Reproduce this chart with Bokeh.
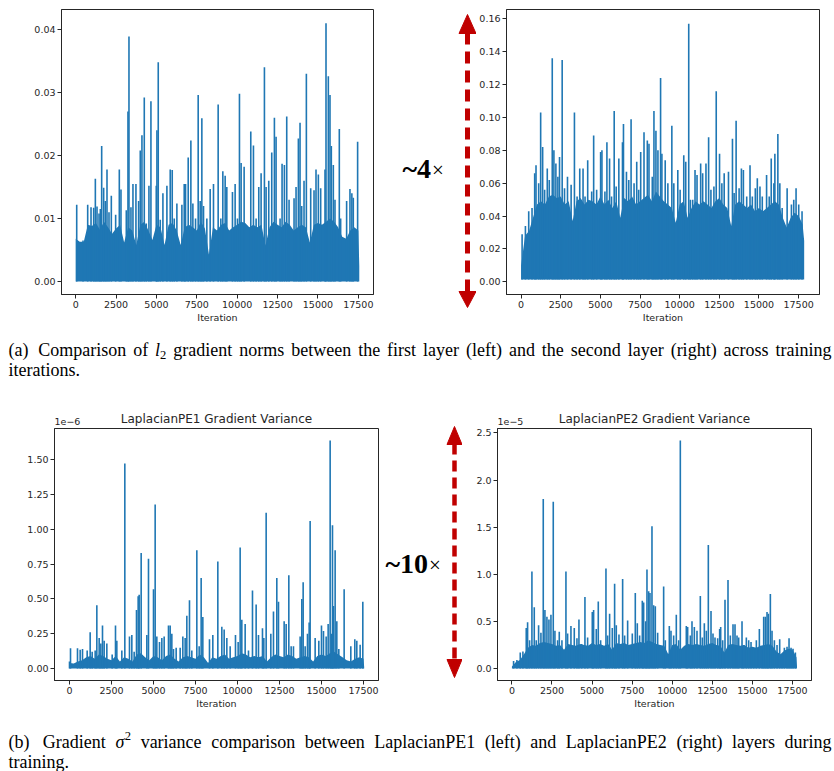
from bokeh.plotting import figure
from bokeh.models import Range1d, FixedTicker, NumeralTickFormatter
from bokeh.layouts import row, column
from bokeh.embed import file_html
from bokeh.resources import INLINE
from bokeh.core.properties import value

# ---------------- data ----------------
iter_ticks = [0, 2500, 5000, 7500, 10000, 12500, 15000, 17500]

# (a-left) l2 gradient norm, first layer
l1_yticks = [0.0, 0.01, 0.02, 0.03, 0.04]
l1_band_iter = [0, 250, 500, 750, 1000, 1250, 1500, 1750, 2000, 2250,
                2500, 2750, 3000, 3250, 3500, 3750, 4000, 4250, 4500, 4750,
                5000, 5250, 5500, 5750, 6000, 6250, 6500, 6750, 7000, 7250,
                7500, 7750, 8000, 8250, 8500, 8750, 9000, 9250, 9500, 9750,
                10000, 10250, 10500, 10750, 11000, 11250, 11500, 11750, 12000, 12250,
                12500, 12750, 13000, 13250, 13500, 13750, 14000, 14250, 14500, 14750,
                15000, 15250, 15500, 15750, 16000, 16250, 16500, 16750, 17000, 17250,
                17500, 17560]
l1_band_norm = [0.0068, 0.0063, 0.0063, 0.0090, 0.0088, 0.0093, 0.0082, 0.0095, 0.0086, 0.0076,
                0.0084, 0.0090, 0.0062, 0.0086, 0.0081, 0.0058, 0.0090, 0.0095, 0.0081, 0.0066,
                0.0090, 0.0086, 0.0058, 0.0090, 0.0093, 0.0081, 0.0058, 0.0086, 0.0090, 0.0086,
                0.0081, 0.0095, 0.0084, 0.0043, 0.0086, 0.0081, 0.0090, 0.0093, 0.0081, 0.0086,
                0.0090, 0.0095, 0.0093, 0.0086, 0.0090, 0.0086, 0.0090, 0.0057, 0.0086, 0.0095,
                0.0090, 0.0086, 0.0095, 0.0090, 0.0081, 0.0086, 0.0090, 0.0086, 0.0062, 0.0090,
                0.0093, 0.0090, 0.0095, 0.0100, 0.0095, 0.0086, 0.0071, 0.0068, 0.0081, 0.0086,
                0.0081, 0.0025]
l1_peak_iter = [62, 453, 742, 948, 1113, 1216, 1319, 1443, 1525, 1608,
                1731, 1834, 1937, 2061, 2205, 2473, 2700, 2803, 3133, 3236,
                3298, 3421, 3545, 3730, 3895, 3998, 4101, 4246, 4369, 4534,
                4658, 4988, 5029, 5111, 5235, 5400, 5647, 5853, 5977, 6101,
                6265, 6575, 6719, 6801, 6966, 7131, 7255, 7420, 7584, 7708,
                7811, 7914, 8120, 8326, 8532, 8821, 8986, 9110, 9254, 9357,
                9707, 9872, 10016, 10140, 10243, 10429, 10841, 11006, 11171, 11336,
                11480, 11686, 11789, 11954, 12139, 12304, 12407, 12655, 12778, 12922,
                13067, 13211, 13520, 13644, 13788, 13891, 13994, 14138, 14283, 14551,
                14757, 14880, 15025, 15169, 15437, 15499, 15643, 15746, 15828, 15952,
                16055, 16323, 16406, 16776, 16983, 17100, 17189, 17457]
l1_peak_norm = [0.0122, 0.0065, 0.0122, 0.0118, 0.0117, 0.0163, 0.0119, 0.0108, 0.0115, 0.0215,
                0.0149, 0.0128, 0.0178, 0.0110, 0.0136, 0.0106, 0.0178, 0.0146, 0.0113, 0.0270,
                0.0389, 0.0118, 0.0155, 0.0155, 0.0128, 0.0208, 0.0232, 0.0292, 0.0092, 0.0152,
                0.0286, 0.0152, 0.0240, 0.0348, 0.0098, 0.0140, 0.0152, 0.0178, 0.0177, 0.0100,
                0.0124, 0.0122, 0.0155, 0.0155, 0.0197, 0.0224, 0.0124, 0.0100, 0.0296, 0.0128,
                0.0259, 0.0120, 0.0100, 0.0147, 0.0155, 0.0281, 0.0100, 0.0175, 0.0168, 0.0150,
                0.0142, 0.0155, 0.0100, 0.0298, 0.0188, 0.0182, 0.0238, 0.0216, 0.0100, 0.0150,
                0.0172, 0.0340, 0.0150, 0.0160, 0.0205, 0.0260, 0.0230, 0.0100, 0.0187, 0.0185,
                0.0262, 0.0130, 0.0132, 0.0150, 0.0227, 0.0252, 0.0120, 0.0160, 0.0330, 0.0148,
                0.0145, 0.0178, 0.0170, 0.0148, 0.0178, 0.0410, 0.0326, 0.0296, 0.0215, 0.0185,
                0.0130, 0.0242, 0.0100, 0.0128, 0.0147, 0.0140, 0.0133, 0.0222]

# (a-right) l2 gradient norm, second layer
l2_yticks = [0.0, 0.02, 0.04, 0.06, 0.08, 0.10, 0.12, 0.14, 0.16]
l2_floor = 0.0015
l2_band_iter = [0, 250, 500, 750, 1000, 1250, 1500, 1750, 2000, 2250,
                2500, 2750, 3000, 3250, 3500, 3750, 4000, 4250, 4500, 4750,
                5000, 5250, 5500, 5750, 6000, 6250, 6500, 6750, 7000, 7250,
                7500, 7750, 8000, 8250, 8500, 8750, 9000, 9250, 9500, 9750,
                10000, 10250, 10500, 10750, 11000, 11250, 11500, 11750, 12000, 12250,
                12500, 12750, 13000, 13250, 13500, 13750, 14000, 14250, 14500, 14750,
                15000, 15250, 15500, 15750, 16000, 16250, 16500, 16750, 17000, 17250,
                17500, 17750, 17850]
l2_band_norm = [0.010, 0.028, 0.031, 0.039, 0.047, 0.049, 0.047, 0.052, 0.053, 0.051,
                0.052, 0.047, 0.049, 0.037, 0.049, 0.051, 0.047, 0.050, 0.049, 0.047,
                0.052, 0.047, 0.050, 0.045, 0.049, 0.039, 0.051, 0.049, 0.052, 0.047,
                0.049, 0.051, 0.053, 0.049, 0.055, 0.052, 0.049, 0.047, 0.045, 0.036,
                0.047, 0.049, 0.039, 0.045, 0.049, 0.047, 0.049, 0.047, 0.045, 0.049,
                0.051, 0.047, 0.045, 0.034, 0.047, 0.049, 0.047, 0.045, 0.047, 0.043,
                0.045, 0.043, 0.045, 0.047, 0.049, 0.047, 0.039, 0.033, 0.039, 0.042,
                0.040, 0.035, 0.025]
l2_peak_iter = [63, 272, 480, 689, 856, 940, 1107, 1233, 1358, 1483,
                1650, 1776, 1964, 2068, 2193, 2319, 2423, 2590, 2737, 2925,
                3154, 3363, 3530, 3698, 3906, 4032, 4199, 4450, 4575, 4763,
                5014, 5097, 5285, 5411, 5578, 5703, 5870, 5995, 6163, 6392,
                6455, 6643, 6789, 6935, 7123, 7291, 7416, 7541, 7750, 7959,
                8064, 8272, 8377, 8502, 8628, 8795, 8878, 9087, 9254, 9505,
                9630, 9881, 10027, 10257, 10382, 10570, 10675, 10821, 10967, 11093,
                11322, 11448, 11657, 11824, 11970, 12158, 12304, 12513, 12659, 12806,
                13077, 13328, 13432, 13558, 13746, 13892, 14017, 14226, 14435, 14581,
                14769, 14895, 15062, 15208, 15479, 15646, 15772, 15939, 16002, 16190,
                16315, 16461, 16775, 17046, 17192, 17338, 17506, 17715]
l2_peak_norm = [0.029, 0.034, 0.043, 0.045, 0.066, 0.071, 0.060, 0.103, 0.082, 0.056,
                0.069, 0.062, 0.136, 0.080, 0.072, 0.064, 0.076, 0.135, 0.057, 0.064,
                0.059, 0.103, 0.052, 0.069, 0.069, 0.052, 0.074, 0.055, 0.089, 0.056,
                0.079, 0.080, 0.055, 0.085, 0.075, 0.052, 0.104, 0.058, 0.075, 0.085,
                0.096, 0.067, 0.062, 0.099, 0.060, 0.073, 0.056, 0.079, 0.091, 0.086,
                0.084, 0.064, 0.104, 0.092, 0.080, 0.124, 0.078, 0.074, 0.060, 0.095,
                0.060, 0.068, 0.056, 0.077, 0.073, 0.157, 0.050, 0.050, 0.068, 0.065,
                0.072, 0.066, 0.072, 0.088, 0.056, 0.058, 0.116, 0.078, 0.060, 0.066,
                0.067, 0.087, 0.054, 0.098, 0.057, 0.069, 0.068, 0.052, 0.071, 0.052,
                0.057, 0.063, 0.058, 0.052, 0.065, 0.052, 0.075, 0.060, 0.078, 0.090,
                0.060, 0.045, 0.057, 0.047, 0.050, 0.057, 0.047, 0.043]

# (b-left) LaplacianPE1 gradient variance, in units of 1e-6
pe1_yticks = [0.0, 0.25, 0.5, 0.75, 1.0, 1.25, 1.5]
pe1_band_iter = [0, 250, 500, 750, 1000, 1250, 1500, 1750, 2000, 2250,
                 2500, 2750, 3000, 3250, 3500, 3750, 4000, 4250, 4500, 4750,
                 5000, 5250, 5500, 5750, 6000, 6250, 6500, 6750, 7000, 7250,
                 7500, 7750, 8000, 8250, 8500, 8750, 9000, 9250, 9500, 9750,
                 10000, 10250, 10500, 10750, 11000, 11250, 11500, 11750, 12000, 12250,
                 12500, 12750, 13000, 13250, 13500, 13750, 14000, 14250, 14500, 14750,
                 15000, 15250, 15500, 15750, 16000, 16250, 16500, 16750, 17000, 17250,
                 17500, 17540]
pe1_band_var_e6 = [0.04, 0.035, 0.05, 0.06, 0.08, 0.09, 0.07, 0.10, 0.09, 0.07,
                   0.06, 0.09, 0.05, 0.08, 0.07, 0.05, 0.10, 0.11, 0.08, 0.06,
                   0.09, 0.08, 0.06, 0.09, 0.10, 0.07, 0.05, 0.08, 0.09, 0.08,
                   0.07, 0.10, 0.08, 0.04, 0.08, 0.07, 0.09, 0.10, 0.07, 0.08,
                   0.09, 0.11, 0.10, 0.08, 0.09, 0.08, 0.09, 0.05, 0.08, 0.10,
                   0.09, 0.08, 0.10, 0.09, 0.07, 0.08, 0.09, 0.08, 0.05, 0.09,
                   0.10, 0.09, 0.11, 0.12, 0.10, 0.08, 0.06, 0.05, 0.07, 0.08,
                   0.07, 0.01]
pe1_peak_iter = [0, 60, 476, 635, 774, 1052, 1230, 1349, 1528, 1627,
                 1766, 1865, 1964, 2063, 2222, 2540, 2738, 2817, 3115, 3293,
                 3571, 3710, 3849, 3988, 4087, 4147, 4266, 4603, 4702, 5000,
                 5099, 5198, 5357, 5496, 5635, 5892, 5992, 6091, 6190, 6349,
                 6587, 6746, 6884, 6984, 7142, 7281, 7579, 7718, 7837, 7936,
                 8333, 8531, 8829, 9067, 9206, 9365, 9563, 9880, 10039, 10158,
                 10257, 10456, 10654, 10892, 11110, 11249, 11487, 11567, 11706, 11984,
                 12142, 12340, 12440, 12777, 12896, 13055, 13194, 13332, 13729, 13828,
                 13908, 14027, 14166, 14265, 14324, 14622, 14840, 14999, 15118, 15277,
                 15396, 15515, 15594, 15654, 15713, 15812, 15912, 16031, 16348, 16745,
                 16983, 17102, 17300, 17459]
pe1_peak_var_e6 = [0.05, 0.145, 0.145, 0.135, 0.14, 0.13, 0.26, 0.12, 0.13, 0.455,
                   0.22, 0.18, 0.31, 0.20, 0.18, 0.10, 0.31, 0.20, 0.13, 1.475,
                   0.23, 0.24, 0.12, 0.42, 0.52, 0.53, 0.83, 0.24, 0.79, 0.57,
                   1.18, 0.23, 0.19, 0.22, 0.23, 0.31, 0.31, 0.25, 0.14, 0.15,
                   0.15, 0.23, 0.22, 0.38, 0.49, 0.13, 0.85, 0.16, 0.65, 0.37,
                   0.21, 0.24, 0.77, 0.30, 0.28, 0.22, 0.16, 0.24, 0.19, 0.87,
                   0.35, 0.32, 0.13, 0.56, 0.46, 0.24, 0.29, 0.22, 1.12, 0.25,
                   0.41, 0.65, 0.48, 0.34, 0.32, 0.67, 0.16, 0.16, 0.23, 0.50,
                   0.62, 0.16, 0.25, 0.33, 1.06, 0.22, 0.20, 0.31, 0.27, 0.23,
                   0.32, 1.64, 0.25, 1.03, 0.45, 0.85, 0.34, 0.14, 0.57, 0.16,
                   0.21, 0.20, 0.17, 0.48]

# (b-right) LaplacianPE2 gradient variance, in units of 1e-5
pe2_yticks = [0.0, 0.5, 1.0, 1.5, 2.0, 2.5]
pe2_band_iter = [0, 250, 500, 750, 1000, 1250, 1500, 1750, 2000, 2250,
                 2500, 2750, 3000, 3250, 3500, 3750, 4000, 4250, 4500, 4750,
                 5000, 5250, 5500, 5750, 6000, 6250, 6500, 6750, 7000, 7250,
                 7500, 7750, 8000, 8250, 8500, 8750, 9000, 9250, 9500, 9750,
                 10000, 10250, 10500, 10750, 11000, 11250, 11500, 11750, 12000, 12250,
                 12500, 12750, 13000, 13250, 13500, 13750, 14000, 14250, 14500, 14750,
                 15000, 15250, 15500, 15750, 16000, 16250, 16500, 16750, 17000, 17250,
                 17500, 17750, 17780]
pe2_band_var_e5 = [0.02, 0.07, 0.09, 0.15, 0.22, 0.25, 0.24, 0.27, 0.28, 0.27,
                   0.26, 0.24, 0.25, 0.20, 0.26, 0.25, 0.24, 0.26, 0.25, 0.24,
                   0.27, 0.25, 0.26, 0.24, 0.26, 0.20, 0.27, 0.26, 0.27, 0.25,
                   0.26, 0.27, 0.28, 0.27, 0.30, 0.28, 0.26, 0.25, 0.24, 0.15,
                   0.25, 0.26, 0.20, 0.24, 0.26, 0.25, 0.26, 0.25, 0.24, 0.26,
                   0.27, 0.25, 0.24, 0.17, 0.25, 0.26, 0.25, 0.24, 0.25, 0.22,
                   0.23, 0.22, 0.24, 0.25, 0.26, 0.24, 0.18, 0.15, 0.19, 0.21,
                   0.20, 0.12, 0.03]
pe2_peak_iter = [104, 312, 520, 686, 894, 978, 1102, 1248, 1394, 1518,
                 1664, 1810, 1955, 2059, 2184, 2309, 2434, 2579, 2683, 2850,
                 2954, 3120, 3370, 3474, 3682, 3890, 4056, 4181, 4347, 4555,
                 4722, 5013, 5096, 5262, 5387, 5533, 5866, 5970, 6094, 6261,
                 6406, 6510, 6677, 6906, 7030, 7218, 7509, 7696, 7821, 7966,
                 8133, 8216, 8341, 8424, 8528, 8611, 8736, 8840, 8944, 9090,
                 9464, 9568, 9818, 9922, 10088, 10254, 10400, 10504, 10878, 10962,
                 11128, 11232, 11378, 11544, 11752, 11877, 12002, 12126, 12251, 12418,
                 12542, 12667, 12834, 12958, 13021, 13146, 13291, 13478, 13624, 13790,
                 13915, 14040, 14144, 14352, 14456, 14622, 14768, 14914, 15080, 15246,
                 15434, 15600, 15704, 15808, 15912, 15995, 16120, 16224, 16370, 16536,
                 16702, 16848, 16994, 17160, 17285, 17410, 17534, 17680]
pe2_peak_var_e5 = [0.08, 0.09, 0.17, 0.18, 0.43, 0.49, 0.30, 1.03, 0.65, 0.30,
                   0.46, 0.38, 1.80, 0.62, 0.55, 0.52, 0.57, 1.77, 0.40, 0.30,
                   0.39, 0.30, 1.03, 0.37, 0.45, 0.43, 0.32, 0.52, 0.26, 0.76,
                   0.33, 0.60, 0.62, 0.42, 0.71, 0.30, 1.06, 0.35, 0.58, 0.43,
                   0.90, 0.46, 0.36, 0.95, 0.35, 0.51, 0.37, 0.80, 0.48, 0.35,
                   0.72, 0.70, 0.50, 1.05, 0.82, 0.80, 1.51, 0.67, 0.66, 0.38,
                   0.87, 0.30, 0.45, 0.40, 0.35, 0.57, 0.30, 2.42, 0.45, 0.44,
                   0.35, 0.50, 0.44, 0.40, 0.77, 0.33, 0.48, 0.40, 1.31, 0.61,
                   0.37, 0.33, 0.32, 0.42, 0.44, 0.30, 0.73, 0.94, 0.35, 0.47,
                   0.47, 0.35, 0.33, 0.50, 0.25, 0.33, 0.30, 0.28, 0.20, 0.30,
                   0.42, 0.20, 0.55, 0.55, 0.60, 0.58, 0.79, 0.40, 0.30, 0.25,
                   0.31, 0.15, 0.22, 0.23, 0.32, 0.22, 0.21, 0.17]

# ---------------- styling ----------------
BLUE = "#1f77b4"
RED = "#c00000"
INK = "#262626"
TICK_FONT = "DejaVu Sans"
SERIF = "Liberation Serif"


def make_panel(width, height, borders, x_rng, y_rng, y_ticks, y_fmt,
               band_x, band_y, floor, peak_x, peak_y):
    left, right, top, bottom = borders
    p = figure(width=width, height=height, x_range=Range1d(*x_rng), y_range=Range1d(*y_rng),
               output_backend="svg", toolbar_location=None, title=None,
               min_border_left=left, min_border_right=right,
               min_border_top=top, min_border_bottom=bottom)
    p.grid.visible = False
    p.outline_line_color = INK
    p.outline_line_width = 1
    p.outline_line_alpha = 1.0
    p.background_fill_color = "white"
    p.border_fill_color = "white"
    p.varea(x=band_x, y1=floor, y2=band_y, fill_color=BLUE)
    p.segment(x0=peak_x, y0=floor, x1=peak_x, y1=peak_y, line_color=BLUE, line_width=1.6)
    xa = p.xaxis[0]
    ya = p.yaxis[0]
    xa.ticker = FixedTicker(ticks=iter_ticks)
    xa.formatter = NumeralTickFormatter(format="0")
    ya.ticker = FixedTicker(ticks=y_ticks)
    ya.formatter = NumeralTickFormatter(format=y_fmt)
    xa.axis_label = "Iteration"
    for ax in (xa, ya):
        ax.axis_line_color = INK
        ax.major_tick_line_color = INK
        ax.major_tick_in = 0
        ax.major_tick_out = 4
        ax.minor_tick_line_color = None
        ax.major_label_text_font = TICK_FONT
        ax.major_label_text_font_size = "9.5px"
        ax.major_label_text_color = INK
        ax.major_label_standoff = 2
    xa.axis_label_text_font = TICK_FONT
    xa.axis_label_text_font_size = "9.5px"
    xa.axis_label_text_font_style = "normal"
    xa.axis_label_text_color = INK
    xa.axis_label_standoff = 1
    return p


def blank(width, height):
    p = figure(width=width, height=height, x_range=Range1d(0, width), y_range=Range1d(height, 0),
               output_backend="svg", toolbar_location=None, title=None,
               min_border=0, min_border_left=0, min_border_right=0,
               min_border_top=0, min_border_bottom=0)
    p.frame_align = False
    p.axis.visible = False
    p.grid.visible = False
    p.outline_line_color = None
    p.background_fill_color = "white"
    p.border_fill_color = "white"
    return p


def header(width, height, title, title_x, title_y, offset_txt, off_x, off_y):
    p = blank(width, height)
    p.text(x=[title_x], y=[title_y], text=[title], text_font=value(TICK_FONT),
           text_font_size=value("12px"), text_align="center", text_baseline="middle",
           text_color=INK)
    p.text(x=[off_x], y=[off_y], text=[offset_txt], text_font=value(TICK_FONT),
           text_font_size=value("9.5px"), text_align="left", text_baseline="middle",
           text_color=INK)
    return p


BOLD_W = {"~": 520, "0": 500, "1": 500, "4": 500}


def arrow_fig(width, height, ax, top_apex, top_base, bot_base, bot_apex, half, shaft, dash,
              label, lx, ly, size):
    p = blank(width, height)
    p.segment(x0=[ax], y0=[top_base - 1], x1=[ax], y1=[bot_base + 1], line_color=RED,
              line_width=shaft, line_dash=dash)
    p.patches(xs=[[ax - half, ax + half, ax], [ax - half, ax + half, ax]],
              ys=[[top_base, top_base, top_apex], [bot_base, bot_base, bot_apex]],
              fill_color=RED, line_color=RED)
    p.text(x=[lx], y=[ly], text=[label], text_font=value(SERIF), text_font_style="bold",
           text_font_size=value(f"{size}px"), text_baseline="middle", text_color="black")
    w = sum(BOLD_W.get(c, 500) for c in label) * size / 1000.0
    p.text(x=[lx + w + 1], y=[ly + 1], text=["\u00d7"], text_font=value(SERIF),
           text_font_size=value(f"{size * 0.75:.1f}px"), text_baseline="middle",
           text_color="black")
    return p


TIMES_W = {" ": 250, "(": 333, ")": 333, ".": 250, "1": 500, "2": 500,
           "a": 444, "b": 500, "c": 444, "d": 500, "e": 444, "f": 333, "g": 500, "h": 500,
           "i": 278, "l": 278, "m": 778, "n": 500, "o": 500, "p": 500, "r": 333, "s": 389,
           "t": 278, "u": 500, "v": 500, "w": 722, "y": 500, "C": 667, "G": 722, "L": 611,
           "P": 556, "E": 611, "\u03c3": 520}


def tw(s, size):
    return sum(TIMES_W.get(c, 500) for c in s) * size / 1000.0


def caption_fig(width, height, lines, size):
    p = blank(width, height)
    groups = {}

    def put(style, rs, x, y, t):
        g = groups.setdefault((style, round(rs, 2)), {"x": [], "y": [], "text": []})
        g["x"].append(x)
        g["y"].append(y)
        g["text"].append(t)

    def rsize(kind):
        return size * 0.7 if kind in ("sub", "sup") else size

    for words, x0, y, x1 in lines:
        words = [[(w, "r")] if isinstance(w, str) else w for w in words]
        widths = [sum(tw(t, rsize(k)) for t, k in w) for w in words]
        weights = [1.4] + [1.0] * (len(words) - 2) if len(words) > 1 else []
        if x1 is not None and weights:
            unit = (x1 - x0 - sum(widths)) / sum(weights)
        else:
            unit = TIMES_W[" "] * size / 1000.0
        x = x0
        for i, w in enumerate(words):
            for t, k in w:
                rs = rsize(k)
                dy = size * 0.28 if k == "sub" else (-size * 0.33 if k == "sup" else 0)
                put("italic" if k == "i" else "normal", rs, x, y + dy, t)
                x += tw(t, rs)
            if i < len(weights):
                x += weights[i] * unit

    for (style, rs), g in groups.items():
        p.text(x=g["x"], y=g["y"], text=g["text"], text_font=value(SERIF),
               text_font_style=style, text_font_size=value(f"{rs}px"),
               text_baseline="middle", text_color="black")
    return p


# ---------------- panels ----------------
f1 = make_panel(385, 325, (61, 12, 9, 30), (-880, 18440), (-0.00206, 0.04318), l1_yticks, "0.00",
                l1_band_iter, l1_band_norm, 0.0, l1_peak_iter, l1_peak_norm)
f2 = make_panel(358, 325, (28, 15, 9, 30), (-921, 18816), (-0.0077, 0.1657), l2_yticks, "0.00",
                l2_band_iter, l2_band_norm, l2_floor, l2_peak_iter, l2_peak_norm)
fa1 = arrow_fig(91, 325, 82, 14, 33, 291, 307, 8.5, 5, "12 7", "~4", 17, 168, 28)

h3 = header(384, 27, "LaplacianPE1 Gradient Variance", 216, 18.5, "1e\u22126", 54, 21)
f3 = make_panel(384, 288, (54, 6, 1, 35), (-893, 18393), (-0.0864, 1.726), pe1_yticks, "0.00",
                pe1_band_iter, pe1_band_var_e6, 0.0, pe1_peak_iter, pe1_peak_var_e6)
h4 = header(372, 27, "LaplacianPE2 Gradient Variance", 192, 18.5, "1e\u22125", 35, 21)
f4 = make_panel(372, 288, (35, 23, 1, 35), (-899, 18686), (-0.1275, 2.547), pe2_yticks, "0.0",
                pe2_band_iter, pe2_band_var_e5, 0.0, pe2_peak_iter, pe2_peak_var_e5)
fa2 = arrow_fig(78, 315, 70, 26, 44, 259, 277, 7.5, 4.5, "11 6", "~10", 1, 163, 28)

cap_size = 18
cap_a = caption_fig(834, 75, [
    (["(a)", "Comparison", "of", [("l", "i"), ("2", "sub")], "gradient", "norms", "between",
      "the", "first", "layer", "(left)", "and", "the", "second", "layer", "(right)", "across",
      "training"], 8, 24, 831),
    (["iterations."], 8, 44, None),
], cap_size)
cap_b = caption_fig(834, 56, [
    (["(b)", "Gradient", [("\u03c3", "i"), ("2", "sup")], "variance", "comparison", "between",
      "LaplacianPE1", "(left)", "and", "LaplacianPE2", "(right)", "layers", "during"], 8, 26, 831),
    (["training."], 8, 46, None),
], cap_size)

layout = column(row(f1, fa1, f2), cap_a,
                row(column(h3, f3), fa2, column(h4, f4)), cap_b)

open("out.html", "w").write(file_html(layout, INLINE))
